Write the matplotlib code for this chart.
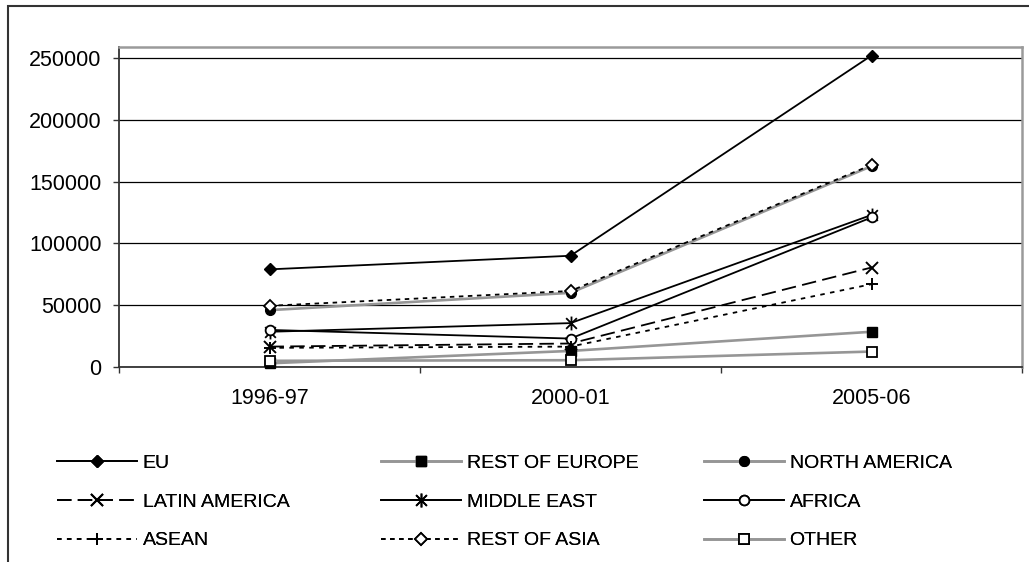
import numpy as np
import matplotlib
matplotlib.use('Agg')
import matplotlib.pyplot as plt
from matplotlib.path import Path
from matplotlib.patches import Rectangle

plt.rcParams['font.family'] = ['Liberation Sans', 'DejaVu Sans']

# ---------------- data ----------------
years = ['1996-97', '2000-01', '2005-06']
eu = [79000, 90000, 252000]
rest_of_europe = [3000, 13000, 28500]
north_america = [46000, 60000, 162500]
latin_america = [16500, 19000, 80500]
middle_east = [28500, 35500, 123000]
africa = [30000, 23000, 121000]
asean = [15500, 16500, 67000]
rest_of_asia = [49500, 61500, 163500]
other = [5000, 5500, 12500]
y_ticks = [0, 50000, 100000, 150000, 200000, 250000]

# ---------------- figure ----------------
W, H = 1029, 562
fig = plt.figure(figsize=(W / 100, H / 100), dpi=100)
ax_top, ax_bot, ax_left, ax_right = 46.7, 367, 119, 1022
ax = fig.add_axes([ax_left / W, 1 - ax_bot / H, (ax_right - ax_left) / W, (ax_bot - ax_top) / H])

# asterisk marker (x plus vertical bar)
star = Path([(-1, -1), (1, 1), (-1, 1), (1, -1), (0, -1.3), (0, 1.3)],
            [Path.MOVETO, Path.LINETO, Path.MOVETO, Path.LINETO, Path.MOVETO, Path.LINETO])

GRAY = '#969696'
xpos = np.arange(len(years)) + 0.5
lw = 1.3

series = [
    ('EU', eu, dict(color='black', ls='-', marker='D', mfc='black', mec='black', ms=6.5)),
    ('REST OF EUROPE', rest_of_europe, dict(color=GRAY, ls='-', lw=1.9, marker='s', mfc='black', mec='black', ms=6.5)),
    ('NORTH AMERICA', north_america, dict(color=GRAY, ls='-', lw=1.9, marker='o', mfc='black', mec='black', ms=7)),
    ('LATIN AMERICA', latin_america, dict(color='black', ls=(0, (8, 3.5)), marker='x', mfc='none', mec='black', ms=8, mew=1.4)),
    ('MIDDLE EAST', middle_east, dict(color='black', ls='-', marker=star, mfc='none', mec='black', ms=10, mew=1.3)),
    ('AFRICA', africa, dict(color='black', ls='-', marker='o', mfc='white', mec='black', ms=7, mew=1.3)),
    ('ASEAN', asean, dict(color='black', ls=(0, (2.5, 3)), marker='+', mfc='none', mec='black', ms=9, mew=1.4)),
    ('REST OF ASIA', rest_of_asia, dict(color='black', ls=(0, (2.5, 2.5)), marker='D', mfc='white', mec='black', ms=6.5, mew=1.3)),
    ('OTHER', other, dict(color=GRAY, ls='-', lw=1.9, marker='s', mfc='white', mec='black', ms=7, mew=1.3)),
]

handles = []
for name, vals, st in series:
    st = dict(st)
    st.setdefault('lw', lw)
    h, = ax.plot(xpos, vals, label=name, clip_on=False, zorder=3, **st)
    handles.append(h)

# axes styling
ax.set_xlim(0, 3)
ax.set_ylim(0, 250000 * (ax_bot - ax_top) / (ax_bot - 58))
ax.set_yticks(y_ticks)
ax.set_yticklabels([str(v) for v in y_ticks])
ax.set_xticks(xpos)
ax.set_xticklabels(years)
ax.set_xticks(np.arange(0, len(years) + 1), minor=True)
ax.tick_params(axis='x', which='major', length=0, pad=15, labelsize=15.5)
ax.tick_params(axis='x', which='minor', length=4.5, width=1.0, direction='out', color='#333333')
ax.tick_params(axis='y', which='major', length=4.5, width=1.0, direction='out', color='#333333', pad=8, labelsize=15.5)
ax.yaxis.grid(True, color='black', lw=0.9)
ax.set_axisbelow(True)
for s in ('left', 'bottom'):
    ax.spines[s].set_color('#333333')
    ax.spines[s].set_linewidth(1.3)
for s in ('top', 'right'):
    ax.spines[s].set_color('#9a9a9a')
    ax.spines[s].set_linewidth(1.8)

# outer chart border (extends beyond the visible crop on right/bottom)
fig.patches.append(Rectangle((8 / W, -0.2), 1.5, 1.2 - 6 / H, transform=fig.transFigure,
                             fill=False, edgecolor='#333333', lw=1.5))

# legend: three columns
col_x = [57, 381, 704]
leg_top = 454.5
fs = 14
for c in range(3):
    hs = handles[c::3]
    leg = fig.legend(handles=hs, labels=[h.get_label() for h in hs], loc='upper left',
                     bbox_to_anchor=(col_x[c] / W, 1 - leg_top / H), frameon=False,
                     fontsize=fs, handlelength=4.1, handletextpad=0.3, borderpad=0,
                     borderaxespad=0, labelspacing=1.08, numpoints=1)
    fig.add_artist(leg)

fig.savefig('out.png', dpi=100)
